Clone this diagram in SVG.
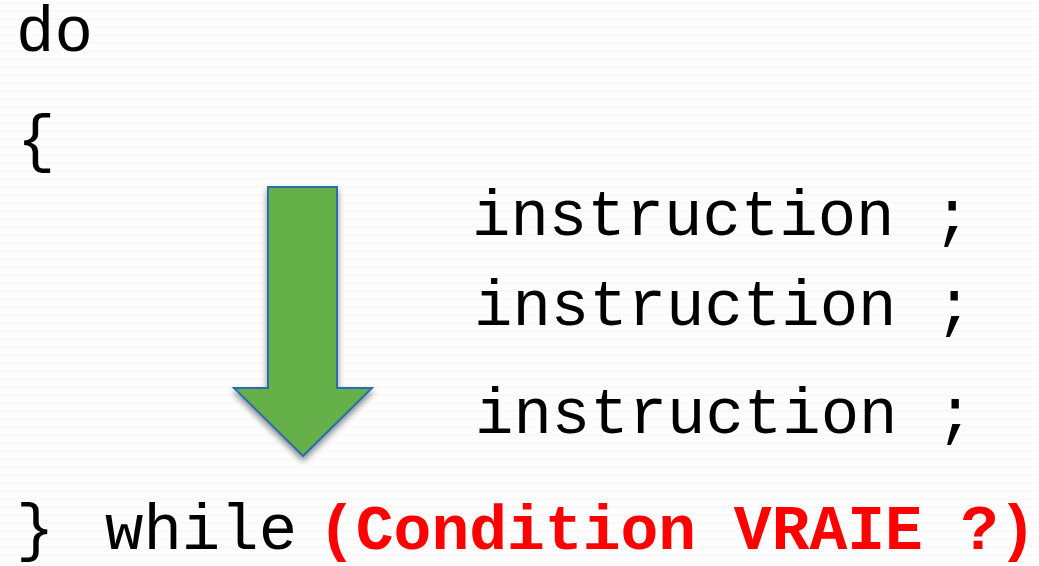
<svg xmlns="http://www.w3.org/2000/svg" width="1039" height="566" viewBox="0 0 1039 566">
<defs>
<pattern id="bgpat" width="8" height="8" patternUnits="userSpaceOnUse">
<rect width="8" height="8" fill="#fdfdfd"/>
<path d="M0 4 L2 2 L4 4 L6 2 L8 4" fill="none" stroke="#f4f4f4" stroke-width="0.8"/>
</pattern>
<filter id="shadow" x="-30%" y="-20%" width="160%" height="150%">
<feGaussianBlur in="SourceAlpha" stdDeviation="3"/>
<feOffset dx="0" dy="4" result="b"/>
<feComponentTransfer><feFuncA type="linear" slope="0.45"/></feComponentTransfer>
<feMerge><feMergeNode/><feMergeNode in="SourceGraphic"/></feMerge>
</filter>
</defs>
<style>
.code{font-family:"Liberation Mono","Courier New",monospace;font-size:64px;fill:#000}
.cond{font-family:"Liberation Mono","Courier New",monospace;font-size:63px;font-weight:bold;fill:#ff0000}
.arrow{fill:#65b04a;stroke:#2a6db0;stroke-width:2}
</style>
<rect width="1039" height="566" fill="url(#bgpat)"/>
<g id="do"><text class="code" x="16" y="51">do</text></g>
<g id="open-brace"><text class="code" x="17" y="160">{</text></g>
<g id="instr1"><text class="code" x="472" y="235">instruction ;</text></g>
<g id="instr2"><text class="code" x="474" y="325">instruction ;</text></g>
<g id="instr3"><text class="code" x="475" y="433">instruction ;</text></g>
<g id="close-while"><text class="code" x="16" y="549">}</text><text class="code" x="105" y="549">while</text></g>
<g id="condition"><text class="cond" x="318" y="549">(Condition VRAIE ?)</text></g>
<g id="connectors">
<path class="arrow" filter="url(#shadow)" d="M268 187 L337 187 L337 388 L372 388 L303 456 L234 388 L268 388 Z"/>
</g>
</svg>
